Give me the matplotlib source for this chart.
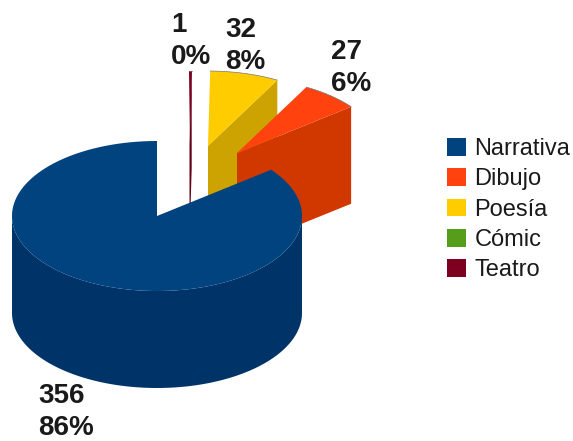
import numpy as np
import matplotlib
matplotlib.use("Agg")
import matplotlib.pyplot as plt
from matplotlib.patches import Patch

categories = ["Narrativa", "Dibujo", "Poesía", "Cómic", "Teatro"]
values = [356, 27, 32, 0, 1]
percent_labels = ["86%", "6%", "8%", "0%", "0%"]

top_colors = ["#00437f", "#ff420e", "#ffcc00", "#579d1c", "#7e0021"]
side_colors = ["#003468", "#d03800", "#cca300", "#467e16", "#65001a"]
explode_px = [(0, 0), (80, -63), (51, -70), (0, 0), (32.5, -70)]
label_px = [(38, 383), (331, 39), (225, 17), None, (171, 12)]

CX, CY, RX, RY, DEPTH = 157.0, 216.0, 145.0, 75.0, 97.0

plt.rcParams["font.family"] = ["Liberation Sans", "DejaVu Sans"]
fig = plt.figure(figsize=(5.73, 4.41), dpi=100)
ax = fig.add_axes([0, 0, 1, 1])
ax.set_xlim(0, 573)
ax.set_ylim(441, 0)
ax.axis("off")


def rim(theta_deg, ox, oy, dz=0.0):
    t = np.radians(theta_deg)
    return CX + ox + RX * np.sin(t), CY + oy - RY * np.cos(t) + dz


# Slices run counter-clockwise from twelve o'clock.
total = sum(values)
spans = []
edge = 360.0
for v in values:
    next_edge = edge - 360.0 * v / total
    spans.append((next_edge, edge))
    edge = next_edge


def draw_slice(i, z):
    lo, hi = spans[i]
    if hi <= lo:
        return
    ox, oy = explode_px[i]
    apex = (CX + ox, CY + oy)
    theta = np.linspace(lo, hi, 240)
    x, y = rim(theta, ox, oy)
    # outer wall: only the front half of the ring is visible
    front = theta[(theta >= 90) & (theta <= 270)]
    if front.size:
        fx, fy = rim(front, ox, oy)
        ax.fill(np.r_[fx, fx[::-1]], np.r_[fy, fy[::-1] + DEPTH],
                color=side_colors[i], lw=0, zorder=z)
    # cut face on the high-angle edge faces the viewer for the exploded slices
    if hi < 90:
        tx, ty = rim(hi, ox, oy)
        ax.fill([apex[0], tx, tx, apex[0]],
                [apex[1], ty, ty + DEPTH, apex[1] + DEPTH],
                color=side_colors[i], lw=0, zorder=z)
    ax.fill(np.r_[apex[0], x], np.r_[apex[1], y],
            color=top_colors[i], lw=0, zorder=z + 0.5)
    if i != 0:
        ax.plot(x, y, color="#777777", lw=0.5, zorder=z + 0.6)


for i, z in [(4, 1), (3, 2), (2, 3), (1, 4), (0, 5)]:
    draw_slice(i, z)

for i in range(len(values)):
    if label_px[i] is None:
        continue
    ax.text(label_px[i][0], label_px[i][1], f"{values[i]}\n{percent_labels[i]}",
            fontsize=20, fontweight="bold", color="#1a1a1a", ha="left", va="top",
            linespacing=1.28, zorder=10)

handles = [Patch(facecolor=c, edgecolor="none") for c in top_colors]
ax.legend(handles, categories, loc="upper left", bbox_to_anchor=(447 / 573, 1 - 138 / 441),
          frameon=False, fontsize=17, handlelength=0.81, handleheight=0.78,
          handletextpad=0.36, labelspacing=0.347, borderpad=0, borderaxespad=0,
          labelcolor="#1a1a1a")

fig.savefig("out.png", dpi=100)
